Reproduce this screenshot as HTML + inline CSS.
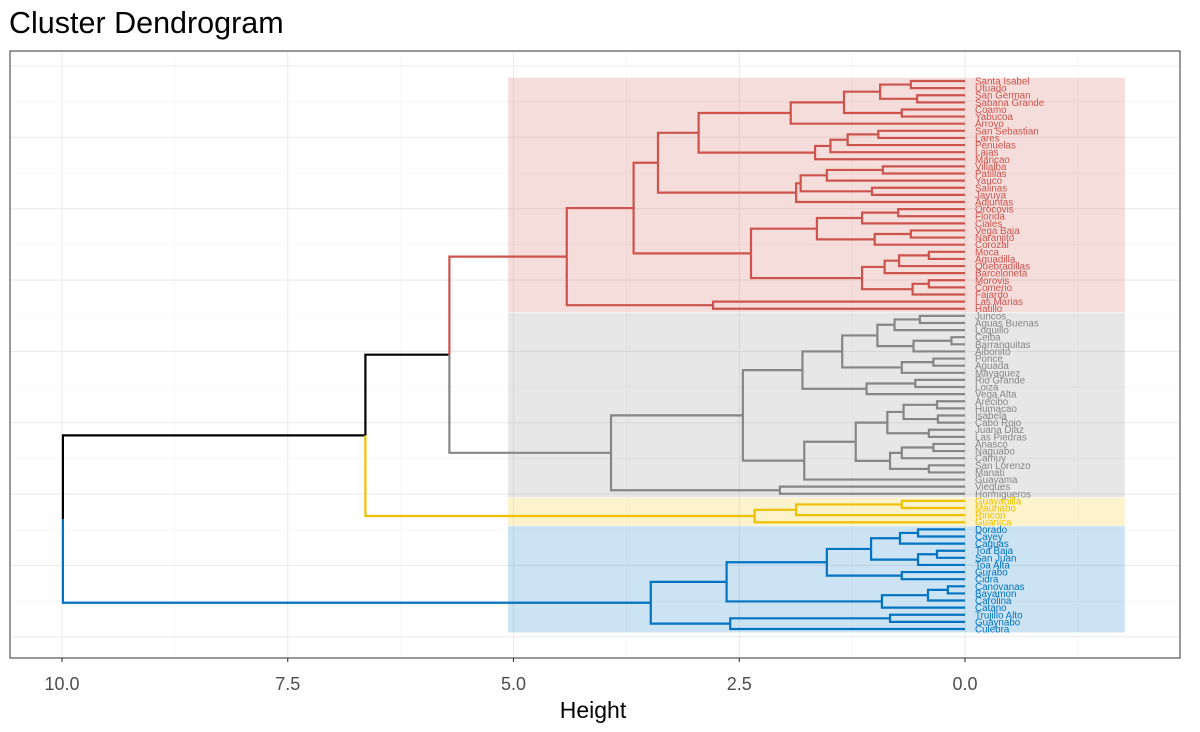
<!DOCTYPE html>
<html><head><meta charset="utf-8">
<style>
body{margin:0;background:#fff;font-family:"Liberation Sans",Arial,sans-serif;}
svg{display:block}
</style></head>
<body>
<svg id="chart" width="1200" height="732" viewBox="0 0 1200 732">
<text x="9" y="33" font-size="30.5" fill="#000">Cluster Dendrogram</text>
<g id="grid"></g>
<g id="rects"></g>
<g id="segs"></g>
<g id="labels"></g>
<rect x="10" y="51" width="1170" height="607" fill="none" stroke="#333" stroke-width="1"/>
<g id="xaxis"></g>
<text x="593" y="718" font-size="23" text-anchor="middle" fill="#000">Height</text>
</svg>
<script>
const leafNames = ["Santa Isabel","Utuado","San German","Sabana Grande","Coamo","Yabucoa","Arroyo","San Sebastian","Lares","Penuelas","Lajas","Maricao","Villalba","Patillas","Yauco","Salinas","Jayuya","Adjuntas","Orocovis","Florida","Ciales","Vega Baja","Naranjito","Corozal","Moca","Aguadilla","Quebradillas","Barceloneta","Morovis","Comerio","Fajardo","Las Marias","Hatillo",
"Juncos","Aguas Buenas","Loquillo","Ceiba","Barranquitas","Aibonito","Ponce","Aguada","Mayaguez","Rio Grande","Loiza","Vega Alta","Arecibo","Humacao","Isabela","Cabo Rojo","Juana Diaz","Las Piedras","Anasco","Naguabo","Camuy","San Lorenzo","Manati","Guayama","Vieques","Hormigueros",
"Guayanilla","Maunabo","Rincon","Guanica",
"Dorado","Cayey","Caguas","Toa Baja","San Juan","Toa Alta","Gurabo","Cidra","Canovanas","Bayamon","Carolina","Catano","Trujillo Alto","Guaynabo","Culebra"];
const clusterSizes = [33,26,4,15];
const clusterColors = ["#CD534C","#868686","#EFC000","#0073C2"];
const xTicks = [10.0,7.5,5.0,2.5,0.0];
const xTickLabels = ["10.0","7.5","5.0","2.5","0.0"];
// tree: [left, right, height]; leaves are indices
const R_A = [[[0,1,0.60],[2,3,0.53],0.94],[4,5,0.70],1.34];
const R_B = [R_A,6,1.93];
const R_C = [[[[7,8,0.96],9,1.30],10,1.49],11,1.66];
const R_D = [R_B,R_C,2.95];
const R_E = [[[[12,13,0.91],14,1.53],[15,16,1.03],1.82],17,1.87];
const R_F = [R_D,R_E,3.40];
const R_G = [[[[18,19,0.74],20,1.14],[[21,22,0.60],23,1.00],1.64],[[[[24,25,0.40],26,0.73],27,0.89],[[28,29,0.40],30,0.58],1.14],2.37];
const R_H = [[R_F,R_G,3.67],[31,32,2.79],4.41];
const G_A = [[[[[33,34,0.50],35,0.78],[[36,37,0.15],38,0.57],0.97],[[39,40,0.35],41,0.70],1.36],[[42,43,0.55],44,1.09],1.80];
const G_B = [[[[[45,46,0.31],[47,48,0.30],0.68],[49,50,0.40],0.86],[[[51,52,0.35],53,0.70],[54,55,0.40],0.83],1.21],56,1.78];
const G_T = [[G_A,G_B,2.46],[57,58,2.05],3.92];
const Y_T = [[[59,60,0.70],61,1.87],62,2.33];
const B_T = [[[[[[63,64,0.52],65,0.72],[[66,67,0.31],68,0.52],1.04],[69,70,0.70],1.53],[[[71,72,0.19],73,0.41],74,0.92],2.64],[[75,76,0.83],77,2.60],3.48];
const ROOT = [[[R_H,G_T,5.71],Y_T,6.64],B_T,9.99];

const NS="http://www.w3.org/2000/svg";
const X0=965, XS=90.3;
const xs = h => X0 - h*XS;
const Y0=81, YS=(629-81)/77;
const ys = i => Y0 + i*YS;
function mk(tag,attrs,parent){const e=document.createElementNS(NS,tag);for(const k in attrs)e.setAttribute(k,attrs[k]);parent.appendChild(e);return e;}
const leafCluster=[];clusterSizes.forEach((n,c)=>{for(let i=0;i<n;i++)leafCluster.push(c);});
const clusterStart=[];{let s=0;clusterSizes.forEach(n=>{clusterStart.push(s);s+=n;});}

const grid=document.getElementById('grid');
for(let k=0;k<9;k++){const y=66+k*71.35;
 const l=mk('line',{x1:10,x2:1180,y1:y,y2:y,stroke:'#ebebeb','stroke-width':1.1},grid);
 
 if(k<8){const l2=mk('line',{x1:10,x2:1180,y1:y+35.7,y2:y+35.7,stroke:'#f3f3f3','stroke-width':0.6},grid);
 }}
[11.25,8.75,6.25,3.75,1.25,-1.25].forEach(v=>{const x=xs(v);if(x<10||x>1180)return;
 const l=mk('line',{x1:x,x2:x,y1:51,y2:658,stroke:'#f3f3f3','stroke-width':0.6},grid);
 });
xTicks.forEach(v=>{const x=xs(v);
 const l=mk('line',{x1:x,x2:x,y1:51,y2:658,stroke:'#ebebeb','stroke-width':1.1},grid);
 });

const rects=document.getElementById('rects');
clusterSizes.forEach((n,c)=>{const s=clusterStart[c];
 const y1=ys(s)-3.2, y2=ys(s+n-1)+3.4;
 const r=mk('rect',{x:xs(5.06),y:y1,width:xs(-1.77)-xs(5.06),height:y2-y1,fill:clusterColors[c],'fill-opacity':0.2},rects);
 });

const segs=document.getElementById('segs');
function info(n){
 if(typeof n==='number') return {y:ys(n),h:0,cl:leafCluster[n]};
 const a=info(n[0]), b=info(n[1]);
 return {y:(a.y+b.y)/2,h:n[2],cl:(a.cl===b.cl)?a.cl:null,a:a,b:b};}
function draw(node){
 if(!node.a) return;
 [node.a,node.b].forEach(ch=>{
  const col=ch.cl===null?'#000':clusterColors[ch.cl];
  const p=mk('path',{d:`M${xs(node.h)},${node.y}V${ch.y}H${xs(ch.h)}`,fill:'none',stroke:col,'stroke-width':2.2},segs);
  
  
  draw(ch);});}
draw(info(ROOT));

const lab=document.getElementById('labels');
leafNames.forEach((nm,i)=>{
 const t=mk('text',{x:975,y:ys(i)+3.5,'font-size':9.8,fill:clusterColors[leafCluster[i]]},lab);
 t.textContent=nm;
 
 });

const xa=document.getElementById('xaxis');
xTicks.forEach((v,i)=>{const x=xs(v);
 const tk=mk('line',{x1:x,x2:x,y1:658,y2:662,stroke:'#333','stroke-width':1.1},xa);
 
 const t=mk('text',{x:x,y:690,'font-size':18,'text-anchor':'middle',fill:'#4d4d4d'},xa);
 t.textContent=xTickLabels[i];
 });
</script>
</body></html>
